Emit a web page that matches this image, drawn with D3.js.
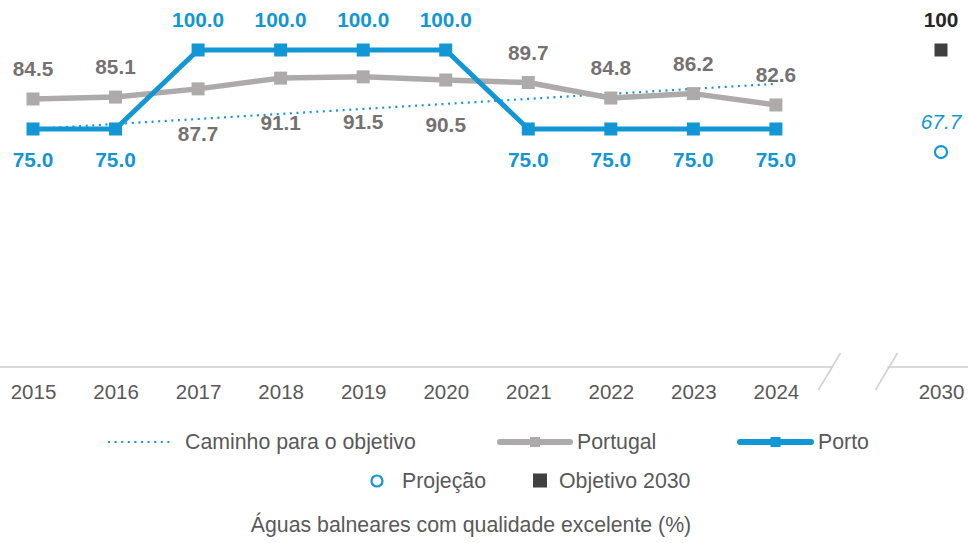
<!DOCTYPE html>
<html lang="pt">
<head>
<meta charset="utf-8">
<script src="https://cdn.jsdelivr.net/npm/d3@7"></script>
<style>
  html, body { margin: 0; padding: 0; background: #fff; }
  svg { display: block; font-family: Arial, "Liberation Sans", sans-serif; }
</style>
</head>
<body>
<svg id="chart" width="968" height="543"></svg>
<script>
// Anos observados e o ano-objetivo
const years = ["2015", "2016", "2017", "2018", "2019", "2020", "2021", "2022", "2023", "2024"];
const targetYear = "2030";

// Águas balneares com qualidade excelente (%)
const portugal = [84.5, 85.1, 87.7, 91.1, 91.5, 90.5, 89.7, 84.8, 86.2, 82.6];
const porto    = [75.0, 75.0, 100.0, 100.0, 100.0, 100.0, 75.0, 75.0, 75.0, 75.0];

// Caminho para o objetivo (linha reta entre os dois extremos)
const pathYears  = ["2015", "2024"];
const pathValues = [75.0, 89.3];

// Projeção e objetivo para 2030
const projectionValue = 67.7;
const targetValue = 100;

// Legenda e título
const legendRow1 = ["Caminho para o objetivo", "Portugal", "Porto"];
const legendRow2 = ["Projeção", "Objetivo 2030"];
const caption = "Águas balneares com qualidade excelente (%)";

const BLUE = "#1296d4";
const GREY_LINE = "#aeaaaa";
const GREY_LABEL = "#757171";
const AXIS_TEXT = "#595959";
const DARK = "#404040";

const svg = d3.select("#chart");

// Eixo categórico com um espaço vazio antes de 2030 (quebra do eixo)
const GAP = "gap";
const slots = [...years, GAP, targetYear];
const x = d3.scalePoint().domain(slots).range([33, 941]);
const y = d3.scaleLinear().domain([0, 100]).range([366, 50]);

// --- Eixo X ---
const axisY = y(0) + 1;
const axisG = svg.append("g").attr("transform", `translate(0,${axisY})`);
axisG.call(d3.axisBottom(x).tickValues([...years, targetYear]).tickSize(0).tickPadding(17))
  .call(g => g.select(".domain").remove())
  .call(g => g.selectAll("text")
    .attr("fill", AXIS_TEXT)
    .attr("font-size", 20.5)
    .attr("font-family", "Arial, 'Liberation Sans', sans-serif"));

// Linha do eixo interrompida por duas barras oblíquas
const gx = x(GAP);
const breakL = gx - 29, breakR = gx + 28;
const axisLine = svg.append("g").attr("stroke", "#d9d9d9").attr("stroke-width", 2);
axisLine.append("line").attr("x1", 0).attr("x2", breakL + 3).attr("y1", axisY).attr("y2", axisY);
axisLine.append("line").attr("x1", breakR + 1).attr("x2", 968).attr("y1", axisY).attr("y2", axisY);
[breakL, breakR].forEach(bx => {
  svg.append("line")
    .attr("x1", bx + 11).attr("y1", axisY - 14)
    .attr("x2", bx - 11).attr("y2", axisY + 23)
    .attr("stroke", "#d0d0d0").attr("stroke-width", 1.5);
});

// --- Caminho para o objetivo ---
const line = d3.line().x(d => x(d.year)).y(d => y(d.value));
svg.append("path")
  .datum(pathYears.map((yr, i) => ({ year: yr, value: pathValues[i] })))
  .attr("d", line)
  .attr("fill", "none")
  .attr("stroke", BLUE)
  .attr("stroke-width", 2.2)
  .attr("stroke-dasharray", "2,4.6");

// --- Séries ---
function drawSeries(values, color, width) {
  const data = years.map((yr, i) => ({ year: yr, value: values[i] }));
  svg.append("path")
    .datum(data)
    .attr("d", line)
    .attr("fill", "none")
    .attr("stroke", color)
    .attr("stroke-width", width)
    .attr("stroke-linejoin", "round");
  const s = 13;
  svg.append("g").selectAll("rect").data(data).join("rect")
    .attr("x", d => x(d.year) - s / 2)
    .attr("y", d => y(d.value) - s / 2)
    .attr("width", s).attr("height", s)
    .attr("fill", color);
  return data;
}

const portugalData = drawSeries(portugal, GREY_LINE, 5.5);
const portoData = drawSeries(porto, BLUE, 5);

// Rótulos de Portugal: abaixo quando o Porto está acima
svg.append("g").selectAll("text").data(portugalData).join("text")
  .attr("x", d => x(d.year))
  .attr("y", (d, i) => y(d.value) + (porto[i] > portugal[i] ? 45 : -30))
  .attr("dy", "0.35em")
  .attr("text-anchor", "middle")
  .attr("font-size", 20.8).attr("font-weight", "bold")
  .attr("fill", GREY_LABEL)
  .text(d => d.value.toFixed(1));

// Rótulos do Porto: acima quando o Porto está acima de Portugal
svg.append("g").selectAll("text").data(portoData).join("text")
  .attr("x", d => x(d.year))
  .attr("y", (d, i) => y(d.value) + (porto[i] > portugal[i] ? -30 : 31))
  .attr("dy", "0.35em")
  .attr("text-anchor", "middle")
  .attr("font-size", 20.8).attr("font-weight", "bold")
  .attr("fill", BLUE)
  .text(d => d.value.toFixed(1));

// --- 2030: objetivo e projeção ---
const tx = x(targetYear);
svg.append("rect")
  .attr("x", tx - 6.5).attr("y", y(targetValue) - 6.5)
  .attr("width", 13).attr("height", 13)
  .attr("fill", DARK);
svg.append("text")
  .attr("x", tx).attr("y", y(targetValue) - 30).attr("dy", "0.35em")
  .attr("text-anchor", "middle")
  .attr("font-size", 20.8).attr("font-weight", "bold").attr("fill", "#262626")
  .text(targetValue);

svg.append("circle")
  .attr("cx", tx).attr("cy", y(projectionValue))
  .attr("r", 6).attr("fill", "#fff")
  .attr("stroke", BLUE).attr("stroke-width", 2.2);
svg.append("text")
  .attr("x", tx).attr("y", y(projectionValue) - 30).attr("dy", "0.35em")
  .attr("text-anchor", "middle")
  .attr("font-size", 20.8).attr("font-style", "italic").attr("fill", BLUE)
  .text(projectionValue.toFixed(1));

// --- Legenda ---
const legend = svg.append("g").attr("font-size", 21.3).attr("fill", AXIS_TEXT);
const ly1 = 442, ly2 = 481;

// Caminho para o objetivo
legend.append("line")
  .attr("x1", 108).attr("x2", 174).attr("y1", ly1).attr("y2", ly1)
  .attr("stroke", BLUE).attr("stroke-width", 2.2).attr("stroke-dasharray", "2,4.6");
legend.append("text").attr("x", 185).attr("y", ly1).attr("dy", "0.35em").text(legendRow1[0]);

// Portugal e Porto
[[500, 570, GREY_LINE, 577, legendRow1[1]], [740, 811, BLUE, 818, legendRow1[2]]]
  .forEach(([a, b, c, tx0, label]) => {
    legend.append("line")
      .attr("x1", a).attr("x2", b).attr("y1", ly1).attr("y2", ly1)
      .attr("stroke", c).attr("stroke-width", 6).attr("stroke-linecap", "round");
    legend.append("rect")
      .attr("x", (a + b) / 2 - 5).attr("y", ly1 - 5).attr("width", 10).attr("height", 10)
      .attr("fill", c);
    legend.append("text").attr("x", tx0).attr("y", ly1).attr("dy", "0.35em").text(label);
  });

// Projeção
legend.append("circle").attr("cx", 377).attr("cy", ly2).attr("r", 5.5)
  .attr("fill", "#fff").attr("stroke", BLUE).attr("stroke-width", 2.2);
legend.append("text").attr("x", 402).attr("y", ly2).attr("dy", "0.35em").text(legendRow2[0]);

// Objetivo 2030
legend.append("rect").attr("x", 533).attr("y", ly2 - 7.5).attr("width", 14).attr("height", 14)
  .attr("fill", DARK);
legend.append("text").attr("x", 559).attr("y", ly2).attr("dy", "0.35em").text(legendRow2[1]);

// Título
svg.append("text")
  .attr("x", 471).attr("y", 525).attr("dy", "0.35em")
  .attr("text-anchor", "middle")
  .attr("font-size", 21.3).attr("fill", AXIS_TEXT)
  .text(caption);
</script>
</body>
</html>
